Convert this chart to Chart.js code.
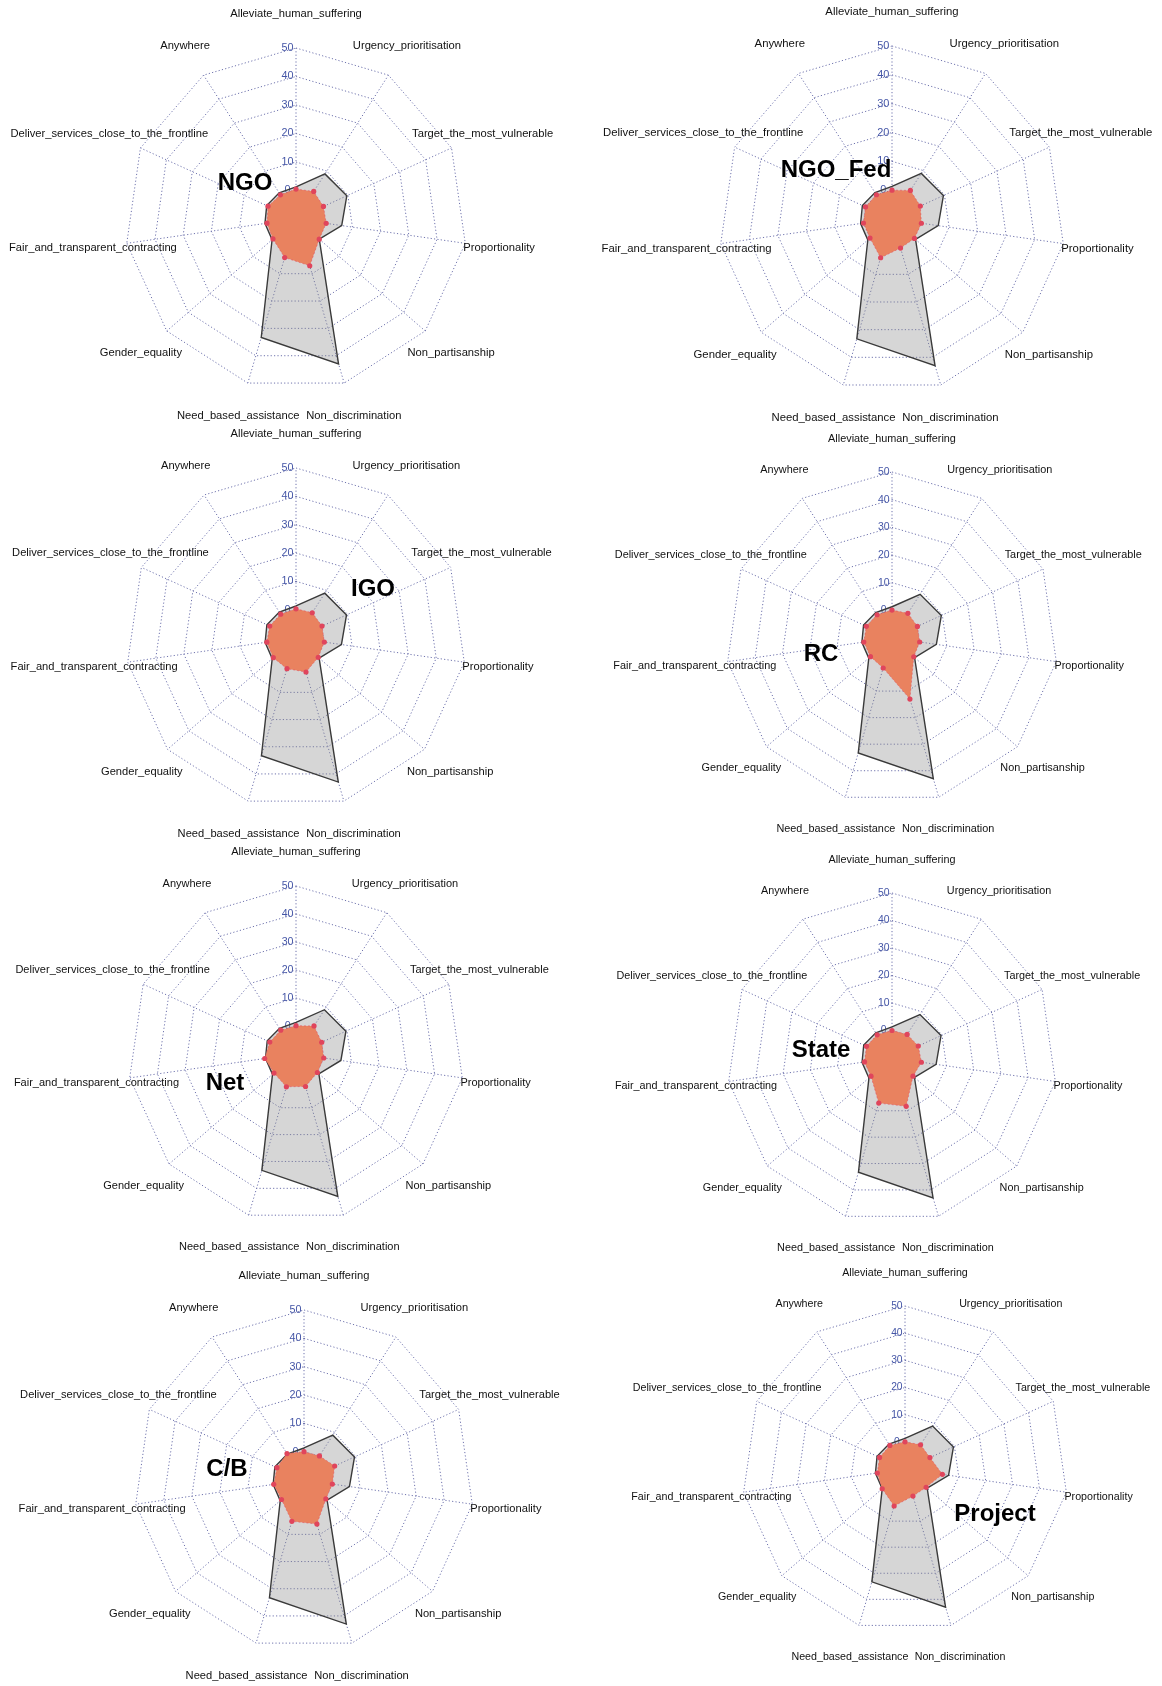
<!DOCTYPE html>
<html>
<head>
<meta charset="utf-8">
<title>Humanitarian principles by organisation type</title>
<script src="https://cdn.jsdelivr.net/npm/chart.js@4.4.1/dist/chart.umd.min.js"></script>
<style>
  html, body { margin: 0; padding: 0; background: #ffffff; overflow: hidden; }
  #page { position: relative; width: 1162px; height: 1686px; overflow: hidden; background: #ffffff; }
  canvas.radar { position: absolute; }
  .tag {
    position: absolute; z-index: 5; white-space: nowrap; line-height: 1;
    font: bold 24px "Liberation Sans", Arial, sans-serif; color: #000;
    transform: translate(-50%, -50%);
  }
</style>
</head>
<body>
<div id="page"></div>
<script>
// Axes, clockwise from the top
const axisLabels = [
  'Alleviate_human_suffering',
  'Urgency_prioritisation',
  'Target_the_most_vulnerable',
  'Proportionality',
  'Non_partisanship',
  'Non_discrimination',
  'Need_based_assistance',
  'Gender_equality',
  'Fair_and_transparent_contracting',
  'Deliver_services_close_to_the_frontline',
  'Anywhere'
];

// Radial tick labels
const tickValues = [0, 10, 20, 30, 40, 50];

// Organisation types, one panel each
const groupNames = ['NGO', 'NGO_Fed', 'IGO', 'RC', 'Net', 'State', 'C/B', 'Project'];

// All organisations together (grey background shape)
const overallValues = [1.3, 8.8, 9.6, 6.2, 0.8, 43.0, 33.3, 1.1, 1.0, 1.3, 0.9];

// Per-group values
const ngoValues     = [0.5, 1.5, 0.6, 0.7, 0.8, 7.1, 4.1, 0.7, 0.3, 0.8, 0.1];
const ngoFedValues  = [0.0, 1.8, 0.8, 0.3, 0.3, 0.5, 4.0, 0.1, 0.0, 0.1, 0.0];
const igoValues     = [0.3, 0.6, 0.1, 0.1, 0.4, 2.5, 1.3, 0.6, 0.4, 0.2, 0.0];
const rcValues      = [0.1, 0.6, 0.1, 0.1, 0.4, 13.0, 1.3, 0.3, 0.3, 0.2, 0.0];
const netValues     = [0.1, 1.9, 0.1, 0.0, 0.1, 2.1, 2.2, 0.4, 1.3, 0.3, 0.1];
const stateValues   = [0.0, 0.2, 0.5, 0.8, 0.1, 8.3, 7.1, 0.1, 0.1, 0.2, 0.0];
const cbValues      = [0.0, 0.1, 1.9, 0.1, 0.2, 6.2, 5.2, 0.5, 0.8, 0.5, 1.1];
const projectValues = [0.0, 0.6, 0.1, 3.9, 0.3, 0.4, 4.2, 1.1, 0.3, 0.3, 0.3];

const groupValues = [ngoValues, ngoFedValues, igoValues, rcValues,
                     netValues, stateValues, cbValues, projectValues];

// Panel placement on the page: web centre, web radius, name tag position
const panelLayout = [
  { cx: 296, cy: 219,  r: 171, tx: 245, ty: 182 },
  { cx: 892, cy: 219,  r: 173, tx: 836, ty: 169 },
  { cx: 296, cy: 638,  r: 170, tx: 373, ty: 588 },
  { cx: 892, cy: 638,  r: 166, tx: 821, ty: 653 },
  { cx: 296, cy: 1054, r: 168, tx: 225, ty: 1082 },
  { cx: 892, cy: 1058, r: 165, tx: 821, ty: 1049 },
  { cx: 304, cy: 1480, r: 170, tx: 227, ty: 1468 },
  { cx: 905, cy: 1469, r: 163, tx: 995, ty: 1513 }
];

const CANVAS_W = 600, CANVAS_H = 440;
const GRID_COLOR = '#6f73ad';
const GRID_DASH = [1.2, 2.2];
const FONT_FAMILY = '"Liberation Sans", Arial, Helvetica, sans-serif';

// Axis tick numbers (under the shapes) and centred axis names at 1.2 x radius
const webText = {
  id: 'webText',
  beforeDatasetsDraw(chart) {
    const s = chart.scales.r;
    const ctx = chart.ctx;
    const k = s.drawingArea / 171;
    ctx.save();
    ctx.font = (10.8 * k).toFixed(2) + 'px ' + FONT_FAMILY;
    ctx.fillStyle = '#4455a6';
    ctx.textAlign = 'center';
    ctx.textBaseline = 'middle';
    tickValues.forEach(v => {
      const p = s.getPointPositionForValue(0, v);
      ctx.fillText(String(v), p.x - 0.05 * s.drawingArea, p.y);
    });
    ctx.restore();
  },
  afterDraw(chart) {
    const s = chart.scales.r;
    const ctx = chart.ctx;
    const k = s.drawingArea / 171;
    ctx.save();
    ctx.font = (11.2 * k).toFixed(2) + 'px ' + FONT_FAMILY;
    ctx.fillStyle = '#111111';
    ctx.textAlign = 'center';
    ctx.textBaseline = 'middle';
    chart.data.labels.forEach((lab, i) => {
      const p = s.getPointPosition(i, 1.2 * s.drawingArea);
      ctx.fillText(lab, p.x, p.y);
    });
    ctx.restore();
  }
};

const page = document.getElementById('page');

groupNames.forEach((name, gi) => {
  const L = panelLayout[gi];
  const left = L.cx - CANVAS_W / 2;
  const top = L.cy - CANVAS_H / 2;

  const canvas = document.createElement('canvas');
  canvas.className = 'radar';
  canvas.width = CANVAS_W;
  canvas.height = CANVAS_H;
  canvas.style.left = left + 'px';
  canvas.style.top = top + 'px';
  canvas.style.width = CANVAS_W + 'px';
  canvas.style.height = CANVAS_H + 'px';
  page.appendChild(canvas);

  const padX = CANVAS_W / 2 - L.r;
  const padY = CANVAS_H / 2 - L.r;

  new Chart(canvas.getContext('2d'), {
    type: 'radar',
    data: {
      labels: axisLabels,
      datasets: [
        {
          label: name,
          data: groupValues[gi],
          order: 1,
          fill: 'start',
          backgroundColor: '#e9825f',
          borderColor: 'rgba(226,72,92,0.55)',
          borderWidth: 1,
          borderDash: [2, 2],
          pointRadius: 2.6,
          pointBackgroundColor: '#e0455c',
          pointBorderWidth: 0,
          tension: 0
        },
        {
          label: 'All',
          data: overallValues,
          order: 2,
          fill: 'start',
          backgroundColor: 'rgba(140,140,140,0.36)',
          borderColor: '#3a3a3a',
          borderWidth: 1.4,
          pointRadius: 0,
          tension: 0
        }
      ]
    },
    options: {
      responsive: false,
      animation: false,
      events: [],
      layout: { padding: { left: padX, right: padX, top: padY, bottom: padY } },
      plugins: { legend: { display: false }, tooltip: { enabled: false }, title: { display: false } },
      scales: {
        r: {
          min: -10,
          max: 50,
          ticks: { display: false, stepSize: 10 },
          grid: { circular: false, color: GRID_COLOR, lineWidth: 1, borderDash: GRID_DASH },
          border: { dash: GRID_DASH },
          angleLines: { color: GRID_COLOR, lineWidth: 1, borderDash: GRID_DASH },
          pointLabels: { display: false }
        }
      }
    },
    plugins: [webText]
  });

  const tag = document.createElement('div');
  tag.className = 'tag';
  tag.textContent = name;
  tag.style.left = L.tx + 'px';
  tag.style.top = L.ty + 'px';
  page.appendChild(tag);
});
</script>
</body>
</html>
